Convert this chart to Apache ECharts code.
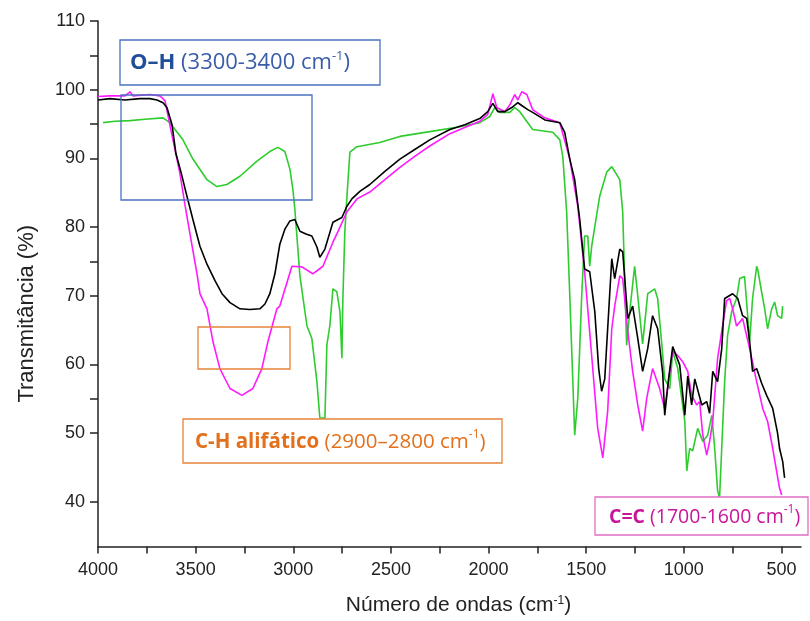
<!DOCTYPE html>
<html>
<head>
<meta charset="utf-8">
<script src="https://cdn.jsdelivr.net/npm/echarts@6/dist/echarts.min.js"></script>
<style>
  html, body { margin: 0; padding: 0; background: #fff; }
  #chart { width: 810px; height: 621px; }
</style>
</head>
<body>
<div id="chart"></div>
<script>
// ---------- DATA ----------
const seriesNames = ['SANT 2014', 'SANT 2015', 'SANT 2024'];

const wn2014 = [4000,3939,3862,3785,3734,3698,3667,3647,3621,3601,3575,3550,3514,3478,3442,3401,3365,3324,3273,3222,3171,3145,3120,3094,3069,3043,3017,2992,2966,2935,2905,2879,2864,2838,2797,2751,2726,2700,2659,2608,2531,2454,2378,2301,2198,2122,2045,2004,1978,1953,1917,1881,1850,1830,1799,1774,1712,1635,1610,1584,1559,1533,1508,1482,1456,1436,1421,1405,1395,1369,1354,1328,1313,1287,1262,1236,1211,1185,1160,1134,1108,1098,1078,1057,1021,995,980,960,944,908,883,868,852,827,806,791,750,724,699,678,663,648,627,602,576,545,520,510,494,484];
const t2014  = [98.5,98.7,98.5,98.7,98.7,98.5,98.1,97.4,94.9,90.7,88.0,85.1,81.1,77.2,74.6,72.2,70.3,69.0,68.1,68.0,68.1,68.8,70.3,73.2,77.5,79.7,80.9,81.1,79.4,79.0,78.7,77.1,75.6,76.8,80.7,81.4,83.0,84.1,85.2,86.2,88.1,89.9,91.3,92.7,94.2,94.9,95.8,96.8,98.0,96.8,96.8,97.4,98.1,97.7,97.1,96.7,95.6,95.2,93.8,89.9,86.9,81.1,73.9,73.5,67.7,59.4,56.1,57.9,62.8,75.4,72.5,76.8,76.4,66.7,68.5,63.8,59.0,62.3,67.1,65.2,58.7,52.6,57.9,62.6,59.9,52.6,58.3,54.1,57.9,54.1,54.6,52.9,59.0,57.5,62.3,69.6,70.3,69.6,67.1,66.7,63.3,59.0,59.4,57.3,55.5,53.6,50.0,47.8,45.9,43.5];

const wn2015 = [4000,3939,3862,3836,3821,3734,3683,3657,3632,3606,3580,3555,3529,3493,3478,3442,3411,3376,3324,3263,3207,3161,3130,3084,3069,3007,2956,2900,2848,2797,2772,2726,2674,2608,2531,2454,2378,2301,2198,2122,2045,2004,1978,1958,1917,1891,1866,1850,1830,1804,1774,1712,1635,1584,1543,1508,1472,1441,1415,1390,1369,1354,1328,1313,1287,1262,1236,1211,1190,1160,1124,1098,1057,1031,1006,980,960,934,919,903,883,868,852,827,806,781,765,750,730,699,663,627,596,571,545,510,499];
const t2015  = [99.0,99.1,99.1,99.7,99.1,99.3,99.1,98.4,94.9,91.3,87.7,83.3,79.0,73.2,70.3,68.1,63.3,59.4,56.5,55.5,56.5,59.4,63.3,68.1,68.5,74.3,74.2,73.2,74.3,77.8,79.3,82.2,84.1,85.1,86.9,88.7,90.3,91.8,93.6,94.5,95.4,96.4,99.4,97.4,96.8,97.8,99.3,98.5,99.7,99.3,97.1,95.9,95.2,89.9,83.0,73.5,61.3,50.7,46.4,53.2,65.2,68.5,72.9,72.5,64.8,59.0,54.1,50.3,55.1,59.4,56.5,53.6,61.9,61.3,60.4,59.0,55.5,54.1,54.6,49.7,46.8,48.8,51.7,60.9,64.8,69.3,69.6,68.1,65.6,66.7,62.3,57.5,53.6,51.7,47.8,42.0,41.0];

const wn2024 = [3974,3913,3836,3759,3667,3632,3565,3514,3442,3391,3340,3273,3186,3120,3079,3043,3017,3002,2992,2966,2930,2905,2879,2864,2853,2838,2828,2813,2797,2777,2761,2751,2746,2736,2726,2710,2674,2557,2454,2301,2147,2045,1994,1968,1943,1891,1866,1840,1774,1671,1635,1620,1600,1584,1569,1559,1543,1523,1508,1492,1482,1472,1431,1395,1369,1328,1313,1293,1277,1252,1236,1211,1185,1149,1134,1113,1098,1072,1057,1031,1011,995,985,970,955,929,903,878,857,842,827,817,806,791,776,755,730,714,689,673,663,648,627,622,602,586,571,550,535,520,499,494];
const t2024  = [95.2,95.4,95.5,95.7,95.9,95.2,92.7,89.9,86.9,85.9,86.2,87.4,89.6,91.0,91.6,91.0,88.4,85.5,82.6,72.9,65.6,63.8,57.5,52.2,52.2,52.2,62.8,65.6,71.0,70.6,67.7,60.9,69.6,79.3,84.1,90.9,91.7,92.3,93.2,93.9,94.6,95.2,96.1,97.4,96.7,96.7,97.4,96.8,94.2,93.8,92.7,90.3,82.2,70.0,58.0,49.7,55.1,70.0,78.7,78.7,74.3,77.2,84.5,88.0,88.8,86.9,82.2,62.8,67.7,74.3,70.0,63.0,70.3,71.0,69.6,63.0,57.9,56.5,61.9,59.4,55.1,51.7,44.5,47.8,47.4,50.7,48.8,49.7,52.6,47.8,41.6,40.6,47.8,57.5,64.2,67.7,69.6,72.5,72.8,67.1,63.3,69.6,74.3,73.9,70.6,68.1,65.2,68.1,69.1,67.1,66.7,68.5];

const xLabelValues = [4000,3500,3000,2500,2000,1500,1000,500];
const xTickValues  = [4000,3750,3500,3250,3000,2750,2500,2250,2000,1750,1500,1250,1000,750,500];
const yLabelValues = [40,50,60,70,80,90,100,110];
const yTickValues  = [40,50,55,60,70,75,80,90,95,100,105,110];

// ---------- BUILD ----------
function pairs(xs, ys) { return xs.map((x, i) => [x, ys[i]]); }
const colors = ['#000000', '#ff1aff', '#2ecc2e'];
const seriesData = [pairs(wn2014, t2014), pairs(wn2015, t2015), pairs(wn2024, t2024)];

const axisFont = 'Liberation Sans, Arial, sans-serif';
const annFont = '"Open Sans", "Noto Sans", sans-serif';

const chart = echarts.init(document.getElementById('chart'), null, { renderer: 'canvas' });

function box(x, y, w, h, stroke, fill) {
  return { type: 'rect', shape: { x: x, y: y, width: w, height: h }, z: 100,
           style: { fill: fill || 'none', stroke: stroke, lineWidth: 1.3 } };
}
function label(x, y, bold, rest, boldColor, restColor, fs) {
  return {
    type: 'text', x: x, y: y, z: 101,
    style: {
      text: '{b|' + bold + '}{r| ' + rest + '}{s|-1}{r|)}',
      verticalAlign: 'middle',
      rich: {
        b: { fontFamily: annFont, fontWeight: 'bold', fontSize: fs, fill: boldColor, lineHeight: 26 },
        r: { fontFamily: annFont, fontSize: fs, fill: restColor, lineHeight: 26 },
        s: { fontFamily: annFont, fontSize: Math.round(fs * 0.6), fill: restColor, verticalAlign: 'top', lineHeight: 26, padding: [0, 0, 10, 0] }
      }
    }
  };
}

chart.setOption({
  animation: false,
  backgroundColor: '#ffffff',
  grid: { left: 98, right: 9, top: 21, bottom: 72, containLabel: false },
  legend: {
    data: seriesNames,
    orient: 'vertical',
    left: 622, top: 21,
    itemWidth: 42, itemHeight: 14, itemGap: 12,
    icon: 'path://M0,0 L1,0',
    textStyle: { fontFamily: axisFont, fontSize: 17, color: '#222' }
  },
  xAxis: {
    type: 'value', inverse: true, min: 400, max: 4000,
    name: 'Número de ondas (cm{s|-1})',
    nameLocation: 'middle', nameGap: 48,
    nameTextStyle: {
      fontFamily: axisFont, fontSize: 21, color: '#222', padding: [0, 0, 0, 18],
      rich: { s: { fontFamily: axisFont, fontSize: 12, color: '#222', verticalAlign: 'top', padding: [0, 0, 10, 0] } }
    },
    axisLine: { show: true, onZero: false, lineStyle: { color: '#222', width: 1.5 } },
    axisTick: { show: true, inside: false, length: 7, customValues: xTickValues, lineStyle: { color: '#222', width: 1.5 } },
    axisLabel: { customValues: xLabelValues, margin: 15, fontFamily: axisFont, fontSize: 18, color: '#222',
                 formatter: v => String(v) },
    splitLine: { show: false }
  },
  yAxis: {
    type: 'value', min: 33.5, max: 110,
    name: 'Transmitância (%)',
    nameLocation: 'middle', nameGap: 60, nameRotate: 90,
    nameTextStyle: { fontFamily: axisFont, fontSize: 22, color: '#222', padding: [0, 60, 0, 0] },
    axisLine: { show: true, onZero: false, lineStyle: { color: '#222', width: 1.5 } },
    axisTick: { show: true, inside: false, length: 8, customValues: yTickValues, lineStyle: { color: '#222', width: 1.5 } },
    axisLabel: { customValues: yLabelValues, margin: 13, fontFamily: axisFont, fontSize: 18, color: '#222',
                 formatter: v => String(v) },
    splitLine: { show: false }
  },
  series: seriesNames.map((n, i) => ({
    name: n, type: 'line', data: seriesData[i],
    symbol: 'none', showSymbol: false, smooth: false,
    z: 10 - i,
    lineStyle: { color: colors[i], width: 1.6 },
    itemStyle: { color: colors[i] }
  })),
  graphic: [
    box(120, 40, 260, 45, '#4a72c0', '#ffffff'),
    label(130, 63, 'O–H', '(3300-3400 cm', '#1f4e9a', '#3a5ca8', 22),
    box(121, 95, 191, 105, '#4a72c0'),
    box(198, 327, 92, 42, '#e8823a'),
    box(183, 419, 319, 44, '#e8823a', '#ffffff'),
    label(195, 442, 'C-H alifático', '(2900–2800 cm', '#e2701c', '#e2701c', 20.5),
    box(595, 497, 213, 38, '#e06ec4', '#ffffff'),
    label(609, 517, 'C=C', '(1700-1600 cm', '#c8159a', '#c8159a', 19.5)
  ]
});
</script>
</body>
</html>
